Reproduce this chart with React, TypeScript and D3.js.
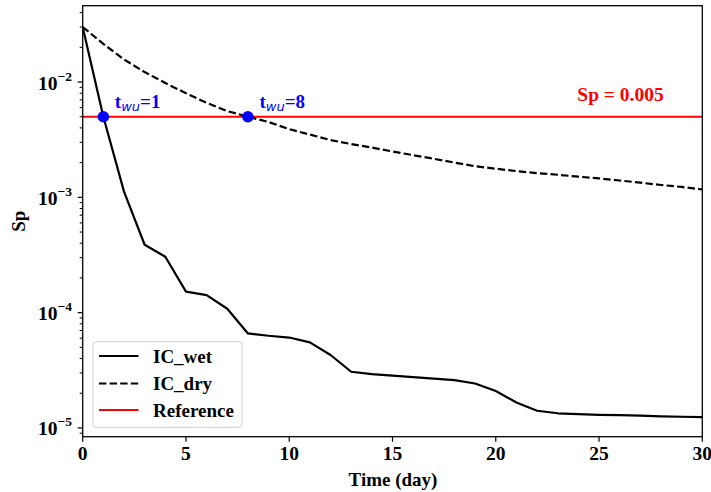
import React from "react";
import * as d3 from "d3";

const days = d3.range(0, 31);
const icWet = [
  0.03, 0.005, 1.12e-3, 3.88e-4, 3.05e-4, 1.52e-4, 1.42e-4, 1.08e-4, 6.6e-5, 6.3e-5,
  6.08e-5, 5.52e-5, 4.29e-5, 3.07e-5, 2.93e-5, 2.84e-5, 2.76e-5, 2.68e-5, 2.6e-5, 2.43e-5,
  2.09e-5, 1.66e-5, 1.41e-5, 1.34e-5, 1.32e-5, 1.3e-5, 1.29e-5, 1.28e-5, 1.26e-5, 1.25e-5, 1.24e-5,
];
const icDry = [
  0.03, 0.0214, 0.0157, 0.0122, 0.0098, 0.008, 0.0066, 0.0056, 0.005, 0.0045,
  0.0039, 0.0035, 3.14e-3, 2.9e-3, 2.7e-3, 2.5e-3, 2.32e-3, 2.16e-3, 2.0e-3, 1.86e-3,
  1.77e-3, 1.69e-3, 1.62e-3, 1.57e-3, 1.51e-3, 1.46e-3, 1.4e-3, 1.34e-3, 1.28e-3, 1.23e-3, 1.17e-3,
];
const refValue = 0.005;
const warmupDays = [1, 8];
const xTicks = [0, 5, 10, 15, 20, 25, 30];
const yMajorExps = [-2, -3, -4, -5];
const legendLabels = ["IC_wet", "IC_dry", "Reference"];

const W = 711;
const H = 492;
const left = 82.7;
const right = 702.3;
const top = 5.7;
const bottom = 436.7;
const font = "'Liberation Serif', 'Times New Roman', serif";

export default function App() {
  const x = d3.scaleLinear().domain([0, 30]).range([left, right]);
  const y = d3.scaleLog().domain([Math.pow(10, -5.076), Math.pow(10, -1.338)]).range([bottom, top]);

  const line = d3
    .line<number>()
    .x((_, i) => x(days[i]))
    .y((d) => y(d));

  const minorTicks: number[] = [];
  for (let e = -6; e <= -1; e++) {
    for (let m = 2; m <= 9; m++) {
      const v = m * Math.pow(10, e);
      const [d0, d1] = y.domain();
      if (v >= d0 && v <= d1) minorTicks.push(v);
    }
  }

  const legendX = 93;
  const legendY = 341.7;
  const legendRows = [356, 383.5, 410];

  return (
    <svg width={W} height={H} style={{ position: "absolute", left: 0, top: 0 }} fontFamily={font}>
      <rect x={0} y={0} width={W} height={H} fill="white" />
      <defs>
        <clipPath id="plotclip">
          <rect x={left} y={top} width={right - left} height={bottom - top} />
        </clipPath>
      </defs>
      <g clipPath="url(#plotclip)">
        <line x1={left} x2={right} y1={y(refValue)} y2={y(refValue)} stroke="#ff0000" strokeWidth={2.2} />
        <path d={line(icWet) || ""} fill="none" stroke="black" strokeWidth={2.2} strokeLinejoin="round" />
        <path d={line(icDry) || ""} fill="none" stroke="black" strokeWidth={2.2} strokeDasharray="7.4,3.2" />
      </g>
      {warmupDays.map((d) => (
        <g key={d}>
          <circle cx={x(d)} cy={y(refValue)} r={5.8} fill="#0000ff" />
          <text x={x(d) + 11.5} y={108} fill="#0000ff" fontSize={19} fontWeight="bold">
            t
            <tspan fontStyle="italic" fontWeight="normal" fontFamily="'DejaVu Sans', sans-serif" fontSize={13} dy={3}>
              wu
            </tspan>
            <tspan dy={-3}>={d}</tspan>
          </text>
        </g>
      ))}
      <text x={620.5} y={101} fill="#ff0000" fontSize={19.5} fontWeight="bold" textAnchor="middle">
        Sp = 0.005
      </text>

      {/* frame */}
      <rect x={left} y={top} width={right - left} height={bottom - top} fill="none" stroke="black" strokeWidth={1.3} />

      {/* x ticks */}
      {xTicks.map((t) => (
        <g key={t}>
          <line x1={x(t)} x2={x(t)} y1={bottom} y2={bottom + 5} stroke="black" strokeWidth={1.2} />
          <text x={x(t)} y={460} textAnchor="middle" fontSize={19.5} fontWeight="bold">
            {t}
          </text>
        </g>
      ))}
      <text x={(left + right) / 2 + 0.5} y={486} textAnchor="middle" fontSize={19} fontWeight="bold">
        Time (day)
      </text>

      {/* y ticks */}
      {minorTicks.map((v) => (
        <line key={v} x1={left - 3} x2={left} y1={y(v)} y2={y(v)} stroke="black" strokeWidth={1} />
      ))}
      {yMajorExps.map((e) => (
        <g key={e}>
          <line x1={left - 5} x2={left} y1={y(Math.pow(10, e))} y2={y(Math.pow(10, e))} stroke="black" strokeWidth={1.2} />
          <text x={72} y={y(Math.pow(10, e)) + 7.5} textAnchor="end" fontSize={19.5} fontWeight="bold">
            10
            <tspan fontSize={13.5} dy={-9}>
              {"\u2212" + Math.abs(e)}
            </tspan>
          </text>
        </g>
      ))}
      <text
        transform={`translate(25, ${(top + bottom) / 2}) rotate(-90)`}
        textAnchor="middle"
        fontSize={19}
        fontWeight="bold"
      >
        Sp
      </text>

      {/* legend */}
      <rect
        x={legendX}
        y={legendY}
        width={149}
        height={85.6}
        rx={3}
        fill="white"
        fillOpacity={0.8}
        stroke="#d0d0d0"
        strokeWidth={1}
      />
      {legendLabels.map((lab, i) => (
        <g key={lab}>
          <line
            x1={99}
            x2={138.5}
            y1={legendRows[i]}
            y2={legendRows[i]}
            stroke={i === 2 ? "#ff0000" : "black"}
            strokeWidth={2.2}
            strokeDasharray={i === 1 ? "7.4,3.2" : undefined}
          />
          <text x={153} y={legendRows[i] + 6.5} fontSize={19} fontWeight="bold">
            {lab}
          </text>
        </g>
      ))}
    </svg>
  );
}
